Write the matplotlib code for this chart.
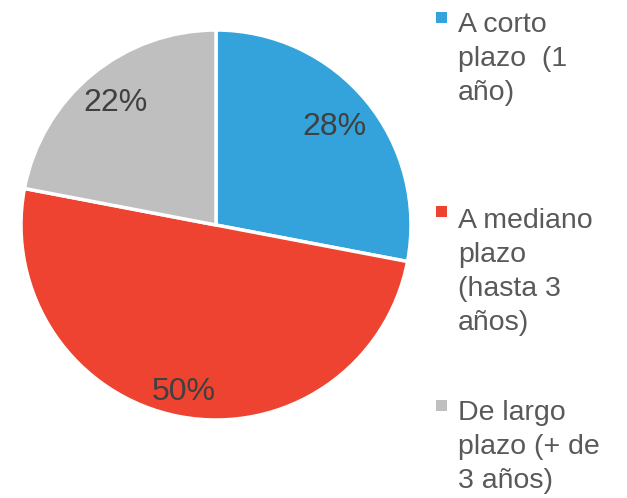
import matplotlib.pyplot as plt
from matplotlib.patches import Rectangle

# datos
categorias = ["A corto\nplazo  (1\naño)", "A mediano\nplazo\n(hasta 3\naños)", "De largo\nplazo (+ de\n3 años)"]
valores = [28, 50, 22]
colores = ["#34A3DB", "#EE4331", "#BFBFBF"]

plt.rcParams['font.family'] = ['Liberation Sans', 'DejaVu Sans']

fig = plt.figure(figsize=(6.27, 4.98), dpi=100)
ax = fig.add_axes([21 / 627, 78 / 498, 390 / 627, 390 / 498])

wedges, textos, autotextos = ax.pie(
    valores, colors=colores, startangle=90, counterclock=False,
    autopct='%1.0f%%', pctdistance=0.8,
    wedgeprops=dict(edgecolor='white', linewidth=2.5),
    textprops=dict(fontsize=23, color='#404040'))
ax.set_aspect('equal')
ax.set_xlim(-1.0, 1.0)
ax.set_ylim(-1.0, 1.0)

# ajustar distancia de etiquetas
dist = [0.79, 0.87, 0.81]
for t, d in zip(autotextos, dist):
    x, y = t.get_position()
    r = (x ** 2 + y ** 2) ** 0.5
    t.set_position((x / r * d, y / r * d))

# leyenda manual
base_y = [29, 223, 417]  # línea base de la primera línea (px desde arriba)
paso = 35.5
for cat, col, by in zip(categorias, colores, base_y):
    n = cat.count("\n")
    fig.text(458 / 627, 1 - (by + n * paso) / 498, cat, fontsize=20.5, color='#595959',
             va='baseline', ha='left', linespacing=1.40)
    fig.patches.append(Rectangle((436 / 627, 1 - (by - 6) / 498), 11 / 627, 11 / 498,
                                 transform=fig.transFigure, facecolor=col,
                                 edgecolor='none', figure=fig))

fig.savefig('out.png', dpi=100)
